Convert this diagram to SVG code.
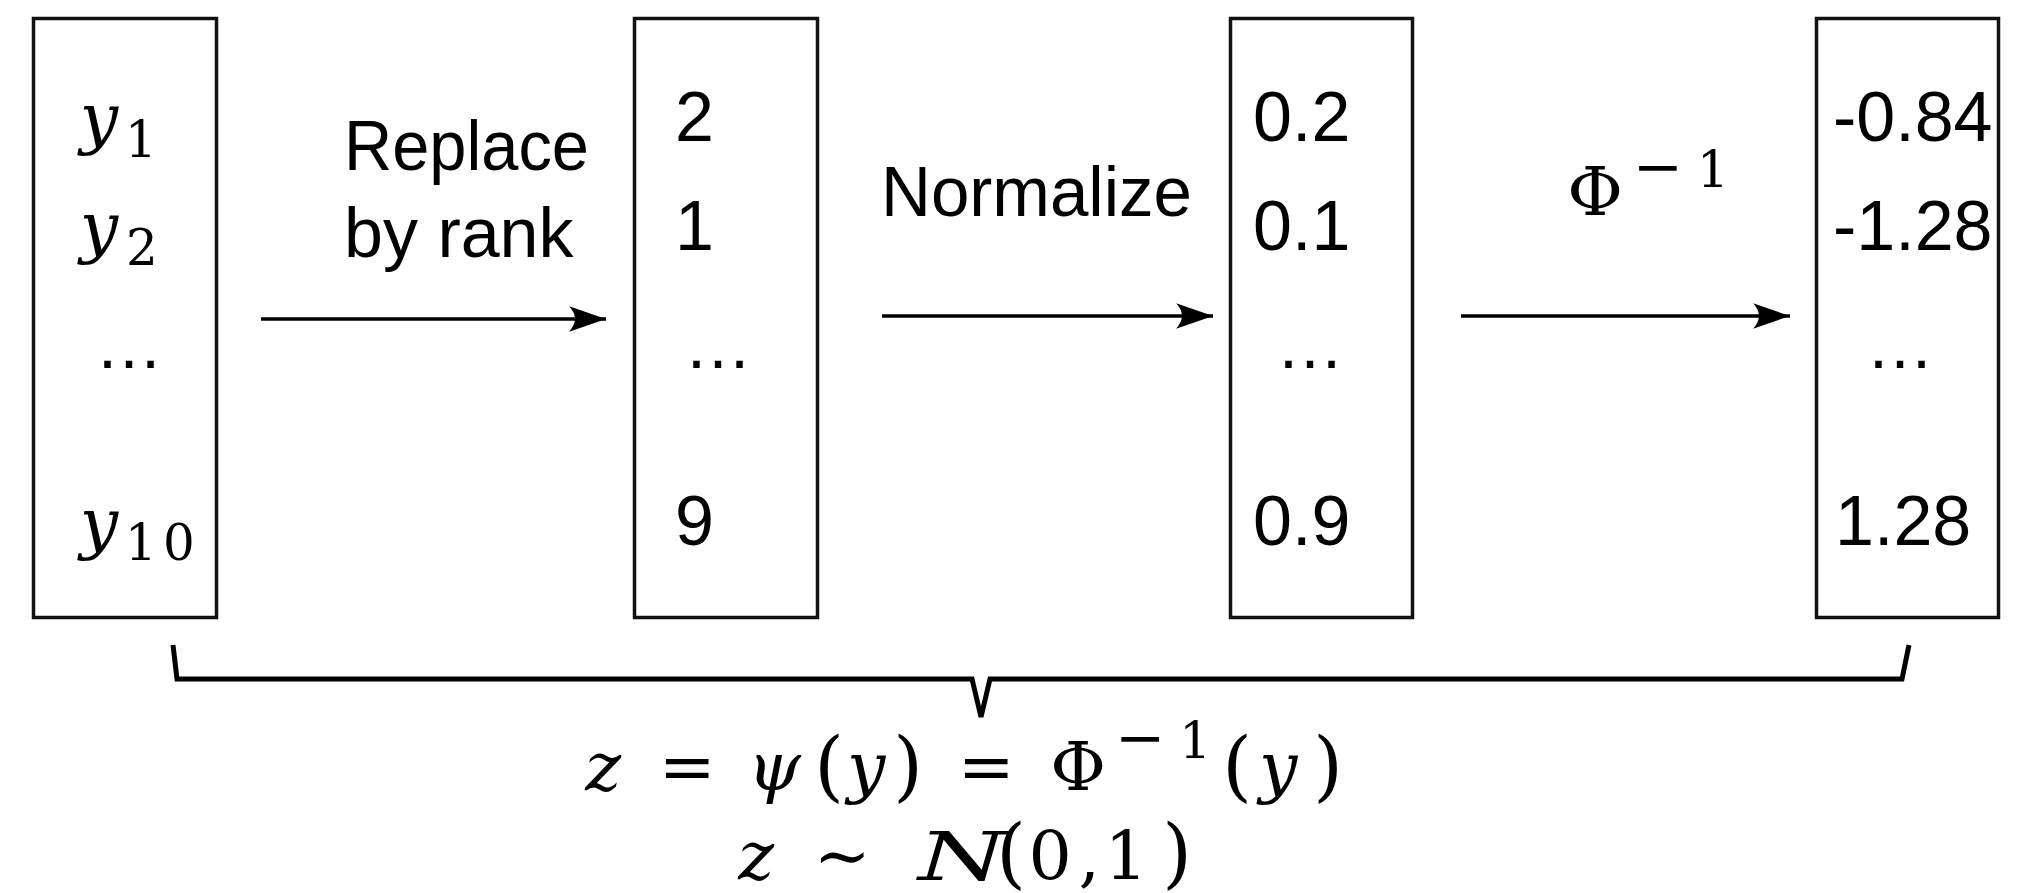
<svg xmlns="http://www.w3.org/2000/svg" width="2044" height="893" viewBox="0 0 2044 893">
<defs>
<style>
.box{fill:#fff;stroke:#111;stroke-width:3.5}
.sans{font-family:"Liberation Sans","DejaVu Sans",sans-serif;font-size:70px;fill:#000}
.math{font-family:"DejaVu Serif","Liberation Serif",serif;font-size:68px;fill:#000;text-anchor:middle}
.it{font-style:italic}
.sub{font-size:50px}
.par{font-size:76px}
.dots{font-family:"Liberation Sans",sans-serif;font-size:68px;text-anchor:middle}
.conn{stroke:#000;stroke-width:3.5;fill:none}
.brace{stroke:#000;stroke-width:5;fill:none;stroke-linejoin:miter}
</style>
<marker id="arr" markerUnits="userSpaceOnUse" markerWidth="40" markerHeight="30" viewBox="-36 -13 38 26" refX="0" refY="0" orient="auto">
<path d="M0,0 L-35,-12 Q-24,0 -35,12 Z" fill="#000"/>
</marker>
</defs>
<rect width="2044" height="893" fill="#fff"/>

<g id="node-input">
<rect class="box" x="33.5" y="18.5" width="183" height="599"/>
<text class="math"><tspan class="it" x="99" y="141">y</tspan><tspan class="sub" x="141" y="157">1</tspan></text>
<text class="math"><tspan class="it" x="99" y="250">y</tspan><tspan class="sub" x="142" y="265">2</tspan></text>
<text class="dots" x="129" y="368">…</text>
<text class="math"><tspan class="it" x="99" y="546">y</tspan><tspan class="sub" x="141" y="560">1</tspan><tspan class="sub" x="179" y="560">0</tspan></text>
</g>

<g id="node-rank">
<rect class="box" x="634.5" y="18.5" width="183" height="599"/>
<text class="sans" x="675" y="141">2</text>
<text class="sans" x="675" y="250">1</text>
<text class="dots" x="718" y="368">…</text>
<text class="sans" x="675" y="545">9</text>
</g>

<g id="node-norm">
<rect class="box" x="1230.5" y="18.5" width="182" height="599"/>
<text class="sans" x="1253" y="141">0.2</text>
<text class="sans" x="1253" y="250">0.1</text>
<text class="dots" x="1310" y="368">…</text>
<text class="sans" x="1253" y="545">0.9</text>
</g>

<g id="node-gauss">
<rect class="box" x="1816.5" y="18.5" width="182" height="599"/>
<text class="sans" x="1833" y="141">-0.84</text>
<text class="sans" x="1833" y="250">-1.28</text>
<text class="dots" x="1900" y="368">…</text>
<text class="sans" x="1835" y="545">1.28</text>
</g>

<g id="connectors">
<line class="conn" x1="261" y1="319" x2="606" y2="319" marker-end="url(#arr)"/>
<line class="conn" x1="882" y1="316" x2="1213" y2="316" marker-end="url(#arr)"/>
<line class="conn" x1="1461" y1="316" x2="1790" y2="316" marker-end="url(#arr)"/>
<text class="sans" x="344" y="170" textLength="245" lengthAdjust="spacingAndGlyphs">Replace</text>
<text class="sans" x="344" y="257">by rank</text>
<text class="sans" x="881" y="216" textLength="311" lengthAdjust="spacingAndGlyphs">Normalize</text>
<text class="math"><tspan x="1595" y="215">Φ</tspan><tspan x="1658" y="187" font-size="60">−</tspan><tspan class="sub" x="1713" y="187">1</tspan></text>
</g>

<g id="brace">
<path class="brace" d="M173,645 L177,679 L972,679 L981,717 L990,679 L1902,679 L1909,645"/>
</g>

<g id="formula">
<text class="math">
<tspan class="it" x="614" y="790">z</tspan>
<tspan x="698" y="790">=</tspan>
<tspan class="it" x="785" y="790">ψ</tspan>
<tspan class="par" x="840" y="792">(</tspan>
<tspan class="it" x="877" y="790">y</tspan>
<tspan class="par" x="919" y="792">)</tspan>
<tspan x="997" y="790">=</tspan>
<tspan x="1089" y="790">Φ</tspan>
<tspan x="1151" y="758" font-size="60">−</tspan>
<tspan class="sub" x="1206" y="758">1</tspan>
<tspan class="par" x="1248" y="792">(</tspan>
<tspan class="it" x="1289" y="790">y</tspan>
<tspan class="par" x="1328" y="792">)</tspan>
</text>
<text class="math">
<tspan class="it" x="767" y="879">z</tspan>
<tspan x="853" y="879">∼</tspan>
<tspan class="par" x="1022" y="879">(</tspan>
<tspan x="1061" y="879">0</tspan>
<tspan x="1100" y="879">,</tspan>
<tspan x="1137" y="879">1</tspan>
<tspan class="par" x="1177" y="879">)</tspan>
</text>
<text class="math it" x="962" y="880" font-size="78" textLength="88" lengthAdjust="spacingAndGlyphs">N</text>
</g>
</svg>
